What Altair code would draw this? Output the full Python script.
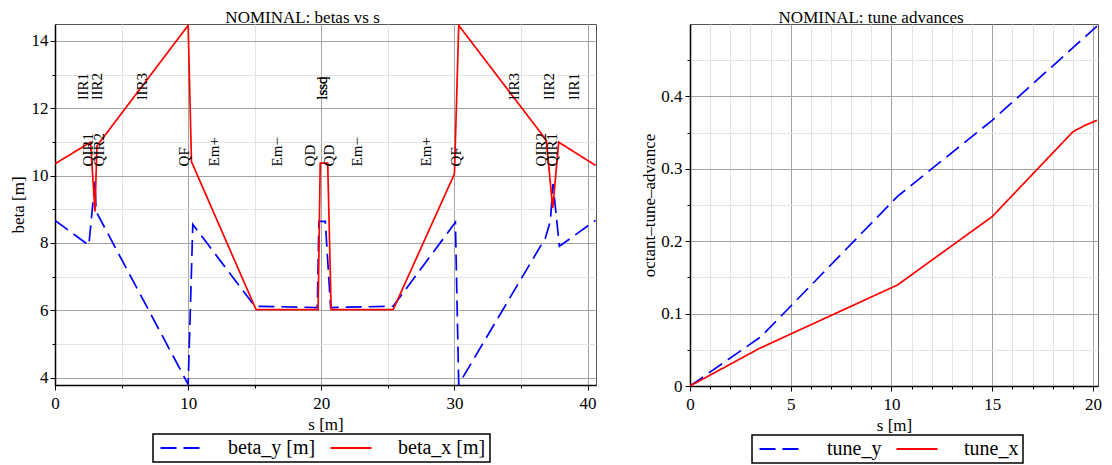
import altair as alt
import pandas as pd

FONT = "Liberation Serif"
MAJOR = "#a3a3a3"
MINOR = "#e4e4e4"

# ---------------- left panel: betas vs s ----------------
beta_names = ["beta_y [m]", "beta_x [m]"]
by_s = [0.0, 2.54, 3.0, 3.09, 10.0, 10.35, 15.0, 19.7, 19.82, 20.3, 20.7, 25.4, 30.07, 30.32, 36.83, 37.2, 37.4, 37.88, 40.6]
by_v = [8.67, 7.93, 9.82, 8.93, 3.8, 8.55, 6.12, 6.08, 8.64, 8.64, 6.08, 6.12, 8.61, 3.8, 8.15, 8.64, 9.75, 7.9, 8.67]
bx_s = [0.0, 2.67, 3.0, 3.15, 10.0, 10.25, 15.1, 19.76, 19.92, 20.48, 20.74, 25.4, 30.0, 30.32, 36.9, 37.38, 37.83, 40.6]
bx_v = [10.35, 10.99, 8.93, 10.88, 14.46, 10.41, 6.02, 6.02, 10.37, 10.37, 6.02, 6.02, 10.05, 14.46, 11.05, 9.03, 10.99, 10.3]

elem_low_names = ["QIR1", "QIR2", "QF", "Em+", "Em−", "QD", "QD", "Em−", "Em+", "QF", "QIR2", "QIR1"]
elem_low_s = [2.85, 3.67, 10.05, 12.3, 17.08, 19.55, 20.93, 23.08, 28.27, 30.52, 36.9, 37.7]
elem_low_y = 10.27
elem_top_names = ["lIR1", "lIR2", "lIR3", "lssq", "lssd", "lIR3", "lIR2", "lIR1"]
elem_top_s = [2.45, 3.55, 6.92, 20.42, 20.42, 34.82, 37.45, 39.34]
elem_top_y = 12.25

bx_major = [0, 10, 20, 30, 40]
bx_minor = [5, 15, 25, 35]
by_major = [4, 6, 8, 10, 12, 14]
by_minor = [5, 7, 9, 11, 13]

# ---------------- right panel: tune advances ----------------
tune_names = ["tune_y", "tune_x"]
ty_s = [0.0, 3.52, 10.3, 15.0, 20.2]
ty_v = [0.0, 0.068, 0.262, 0.367, 0.497]
tx_s = [0.0, 3.45, 10.3, 15.0, 19.0, 19.6, 20.2]
tx_v = [0.0, 0.052, 0.1396, 0.234, 0.351, 0.36, 0.367]

tx_major = [0, 5, 10, 15, 20]
tx_minor = [i for i in range(1, 20) if i % 5 != 0]
ty_major = [0, 0.1, 0.2, 0.3, 0.4]
ty_minor = [0.05, 0.15, 0.25, 0.35, 0.45]


def lines_df(names, s_lists, v_lists):
    rows = []
    for name, ss, vv in zip(names, s_lists, v_lists):
        for i, (s, v) in enumerate(zip(ss, vv)):
            rows.append({"series": name, "s": s, "v": v, "i": i})
    return pd.DataFrame(rows)


def panel(df, xdom, ydom, xmaj, xmin, ymaj, ymin, ytitle, title, names,
          width, height, legend_x, legend_y, ylabpad, ytitlepad, labels_df=None):
    xs = alt.Scale(domain=xdom, nice=False, zero=False)
    ys = alt.Scale(domain=ydom, nice=False, zero=False)

    minor_x = alt.Axis(values=xmin, orient="bottom", grid=True, gridColor=MINOR,
                       labels=False, ticks=True, tickSize=3, tickColor="black",
                       domain=False, title=None)
    minor_y = alt.Axis(values=ymin, orient="left", grid=True, gridColor=MINOR,
                       labels=False, ticks=True, tickSize=3, tickColor="black",
                       domain=False, title=None)
    major_x = alt.Axis(values=xmaj, orient="bottom", grid=True, gridColor=MAJOR,
                       tickSize=5, labelPadding=5, titlePadding=5, format=".2~f",
                       domainColor="black", domainWidth=1.5, title="s [m]")
    major_y = alt.Axis(values=ymaj, orient="left", grid=True, gridColor=MAJOR,
                       tickSize=5, labelPadding=ylabpad, titlePadding=ytitlepad,
                       format=".2~f", domainColor="black", domainWidth=1.5,
                       title=ytitle)

    leg = alt.Legend(orient="none", legendX=legend_x, legendY=legend_y,
                     direction="horizontal", title=None, strokeColor="black",
                     padding=4, symbolType="M-4,0H4", symbolSize=105,
                     symbolOffset=14, symbolStrokeWidth=2, labelFontSize=20,
                     labelFont=FONT, labelColor="black", labelOffset=37,
                     columnPadding=10)

    grid_layer = alt.Chart(df).mark_line(opacity=0).encode(
        x=alt.X("s:Q", scale=xs, axis=minor_x),
        y=alt.Y("v:Q", scale=ys, axis=minor_y),
    )
    line_layer = alt.Chart(df).mark_line(strokeWidth=1.7, clip=True).encode(
        x=alt.X("s:Q", scale=xs, axis=major_x),
        y=alt.Y("v:Q", scale=ys, axis=major_y),
        color=alt.Color("series:N", scale=alt.Scale(domain=names, range=["#0000ff", "#ff0000"]), legend=leg),
        strokeDash=alt.StrokeDash("series:N", scale=alt.Scale(domain=names, range=[[16, 7], [1, 0]]), legend=leg),
        order="i:Q",
    )
    layers = [grid_layer, line_layer]
    if labels_df is not None:
        text_layer = alt.Chart(labels_df).mark_text(
            angle=270, align="left", baseline="alphabetic", fontSize=15,
            font=FONT, color="black").encode(
            x=alt.X("s:Q", scale=xs, axis=None),
            y=alt.Y("v:Q", scale=ys, axis=None),
            text="name:N",
        )
        layers.append(text_layer)
    return alt.layer(*layers).resolve_axis(x="independent", y="independent").properties(
        width=width, height=height, title=alt.Title(title))


beta_df = lines_df(beta_names, [by_s, bx_s], [by_v, bx_v])
labels_df = pd.DataFrame({
    "name": elem_low_names + elem_top_names,
    "s": elem_low_s + elem_top_s,
    "v": [elem_low_y] * len(elem_low_names) + [elem_top_y] * len(elem_top_names),
})
tune_df = lines_df(tune_names, [ty_s, tx_s], [ty_v, tx_v])

left = panel(beta_df, [0, 40.63], [3.78, 14.5], bx_major, bx_minor, by_major, by_minor,
             "beta [m]", "NOMINAL: betas vs s", beta_names, 541, 361, 98, 410, 2, 4,
             labels_df=labels_df)
right = panel(tune_df, [0, 20.25], [0, 0.5], tx_major, tx_minor, ty_major, ty_minor,
              "octant–tune–advance", "NOMINAL: tune advances", tune_names, 408, 362, 62, 411, 3, 2)

chart = alt.hconcat(left, right, spacing=43).resolve_scale(
    x="independent", y="independent", color="independent", strokeDash="independent"
).properties(
    padding={"left": 0, "top": 0, "right": 0, "bottom": 0}
).configure(font=FONT).configure_view(
    stroke="#555555", strokeWidth=1
).configure_title(
    fontSize=17, font=FONT, fontWeight="normal", anchor="middle", frame="bounds",
    offset=-3, baseline="alphabetic", color="black"
).configure_legend(
    strokeWidth=1.5
).configure_axis(
    labelFont=FONT, titleFont=FONT, labelFontSize=17, titleFontSize=17,
    titleFontWeight="normal", labelColor="black", titleColor="black",
    tickColor="black", labelFlush=False, labelOverlap=False, gridWidth=1
)

chart.save("out.html", embed_options={"renderer": "svg", "actions": False})
